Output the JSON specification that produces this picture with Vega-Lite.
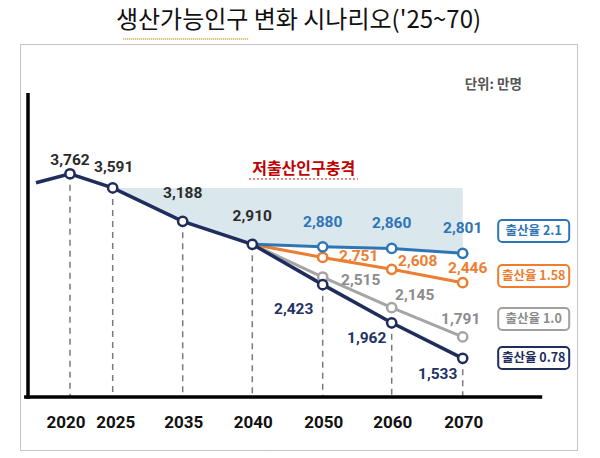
{
  "$schema": "https://vega.github.io/schema/vega-lite/v6.json",
  "width": 557,
  "height": 406,
  "autosize": {"type": "none"},
  "padding": {"left": 20, "top": 44, "right": 23, "bottom": 8},
  "background": "white",
  "view": {"stroke": "#8a8a8a", "strokeWidth": 1, "strokeDash": [1, 1]},
  "title": {"text": "생산가능인구 변화 시나리오('25~70)", "font": "Noto Sans CJK KR", "fontSize": 24, "fontWeight": "normal", "color": "#111111", "anchor": "middle", "frame": "group", "offset": 5},
  "data": {"values": [
    {"series": "0.78", "year": 2016, "value": 3654},
    {"series": "0.78", "year": 2020, "value": 3762},
    {"series": "0.78", "year": 2025, "value": 3591},
    {"series": "0.78", "year": 2035, "value": 3188},
    {"series": "0.78", "year": 2040, "value": 2910},
    {"series": "0.78", "year": 2050, "value": 2423},
    {"series": "0.78", "year": 2060, "value": 1962},
    {"series": "0.78", "year": 2070, "value": 1533},
    {"series": "1.0", "year": 2040, "value": 2910},
    {"series": "1.0", "year": 2050, "value": 2515},
    {"series": "1.0", "year": 2060, "value": 2145},
    {"series": "1.0", "year": 2070, "value": 1791},
    {"series": "1.58", "year": 2040, "value": 2910},
    {"series": "1.58", "year": 2050, "value": 2751},
    {"series": "1.58", "year": 2060, "value": 2608},
    {"series": "1.58", "year": 2070, "value": 2446},
    {"series": "2.1", "year": 2040, "value": 2910},
    {"series": "2.1", "year": 2050, "value": 2880},
    {"series": "2.1", "year": 2060, "value": 2860},
    {"series": "2.1", "year": 2070, "value": 2801}
  ]},
  "encoding": {
    "x": {"field": "year", "type": "quantitative", "axis": null,
      "scale": {"type": "linear", "domain": [2016, 2020, 2025, 2035, 2040, 2050, 2060, 2070], "range": [16, 50, 92.7, 162.7, 232.3, 302.7, 371.7, 442.7], "zero": false, "nice": false}},
    "y": {"field": "value", "type": "quantitative", "axis": null,
      "scale": {"domain": [426, 5329], "zero": false, "nice": false}}
  },
  "layer": [
    {
      "transform": [{"filter": "(datum.series=='0.78' && datum.year>=2025 && datum.year<=2040) || (datum.series=='2.1' && datum.year>2040)"}],
      "mark": {"type": "area", "color": "#dae7ec", "opacity": 1},
      "encoding": {"y2": {"datum": 3591}}
    },
    {
      "transform": [{"filter": "datum.series=='0.78' && datum.year>=2020"}],
      "mark": {"type": "rule", "color": "#7a7a7a", "strokeDash": [6, 5], "strokeWidth": 1.5},
      "encoding": {"y2": {"datum": 1066}}
    },
    {
      "transform": [{"filter": "datum.series=='0.78' && datum.year==2020"}],
      "mark": {"type": "rule", "color": "#000000", "strokeWidth": 3.5},
      "encoding": {"x": {"datum": 2014.6}, "x2": {"datum": 2081.2}, "y": {"datum": 1066}}
    },
    {
      "transform": [{"filter": "datum.series=='0.78' && datum.year==2020"}],
      "mark": {"type": "rule", "color": "#000000", "strokeWidth": 3.5},
      "encoding": {"x": {"datum": 2015.06}, "y": {"datum": 1045}, "y2": {"datum": 4737}}
    },
    {
      "transform": [{"filter": "datum.series!='0.78'"}],
      "mark": {"type": "line", "strokeWidth": 3},
      "encoding": {"color": {"field": "series", "type": "nominal", "legend": null,
        "scale": {"domain": ["0.78", "1.0", "1.58", "2.1"], "range": ["#1f2d5c", "#a5a5a5", "#ed7d31", "#2e75b6"]}}}
    },
    {
      "transform": [{"filter": "datum.series=='0.78'"}],
      "mark": {"type": "line", "strokeWidth": 3.5, "color": "#1f2d5c"},
      "encoding": {}
    },
    {
      "transform": [{"filter": "datum.series!='0.78' && datum.year>2040"}],
      "mark": {"type": "point", "filled": true, "fill": "white", "size": 85, "strokeWidth": 2.5, "opacity": 1},
      "encoding": {"stroke": {"field": "series", "type": "nominal", "legend": null,
        "scale": {"domain": ["0.78", "1.0", "1.58", "2.1"], "range": ["#1f2d5c", "#a5a5a5", "#ed7d31", "#2e75b6"]}}}
    },
    {
      "transform": [{"filter": "datum.series=='0.78' && datum.year>=2020"}],
      "mark": {"type": "point", "filled": true, "fill": "white", "stroke": "#1f2d5c", "size": 85, "strokeWidth": 2.5, "opacity": 1},
      "encoding": {}
    },
    {
      "transform": [{"filter": "datum.series=='0.78' && datum.year==2020"}],
      "mark": {"type": "text", "font": "Roboto", "fontWeight": "bold", "fontSize": 15.5, "baseline": "middle", "align": "center", "dx": 0, "dy": -14, "color": "#2b2b2b"},
      "encoding": {"text": {"field": "value", "type": "quantitative", "format": ","}}
    },
    {
      "transform": [{"filter": "datum.series=='0.78' && datum.year==2025"}],
      "mark": {"type": "text", "font": "Roboto", "fontWeight": "bold", "fontSize": 15.5, "baseline": "middle", "align": "center", "dx": 1, "dy": -21, "color": "#2b2b2b"},
      "encoding": {"text": {"field": "value", "type": "quantitative", "format": ","}}
    },
    {
      "transform": [{"filter": "datum.series=='0.78' && (datum.year==2035 || datum.year==2040)"}],
      "mark": {"type": "text", "font": "Roboto", "fontWeight": "bold", "fontSize": 15.5, "baseline": "middle", "align": "center", "dx": 0, "dy": -28, "color": "#2b2b2b"},
      "encoding": {"text": {"field": "value", "type": "quantitative", "format": ","}}
    },
    {
      "transform": [{"filter": "datum.series=='0.78' && datum.year==2050"}],
      "mark": {"type": "text", "font": "Roboto", "fontWeight": "bold", "fontSize": 15.5, "baseline": "middle", "align": "center", "dx": -29, "dy": 24, "color": "#1f3464"},
      "encoding": {"text": {"field": "value", "type": "quantitative", "format": ","}}
    },
    {
      "transform": [{"filter": "datum.series=='0.78' && datum.year>=2060"}],
      "mark": {"type": "text", "font": "Roboto", "fontWeight": "bold", "fontSize": 15.5, "baseline": "middle", "align": "center", "dx": -25, "dy": 15.5, "color": "#1f3464"},
      "encoding": {"text": {"field": "value", "type": "quantitative", "format": ","}}
    },
    {
      "transform": [{"filter": "datum.series=='2.1' && datum.year>2040"}],
      "mark": {"type": "text", "font": "Roboto", "fontWeight": "bold", "fontSize": 15.5, "baseline": "middle", "align": "center", "dx": 0, "dy": -25, "color": "#2e75b6"},
      "encoding": {"text": {"field": "value", "type": "quantitative", "format": ","}}
    },
    {
      "transform": [{"filter": "datum.series=='1.58' && datum.year==2050"}],
      "mark": {"type": "text", "font": "Roboto", "fontWeight": "bold", "fontSize": 15.5, "baseline": "middle", "align": "center", "dx": 36, "dy": -1, "color": "#ed7d31"},
      "encoding": {"text": {"field": "value", "type": "quantitative", "format": ","}}
    },
    {
      "transform": [{"filter": "datum.series=='1.58' && datum.year==2060"}],
      "mark": {"type": "text", "font": "Roboto", "fontWeight": "bold", "fontSize": 15.5, "baseline": "middle", "align": "center", "dx": 26, "dy": -8, "color": "#ed7d31"},
      "encoding": {"text": {"field": "value", "type": "quantitative", "format": ","}}
    },
    {
      "transform": [{"filter": "datum.series=='1.58' && datum.year==2070"}],
      "mark": {"type": "text", "font": "Roboto", "fontWeight": "bold", "fontSize": 15.5, "baseline": "middle", "align": "center", "dx": 5, "dy": -15, "color": "#ed7d31"},
      "encoding": {"text": {"field": "value", "type": "quantitative", "format": ","}}
    },
    {
      "transform": [{"filter": "datum.series=='1.0' && datum.year==2050"}],
      "mark": {"type": "text", "font": "Roboto", "fontWeight": "bold", "fontSize": 15.5, "baseline": "middle", "align": "center", "dx": 38, "dy": 3, "color": "#8c8c8c"},
      "encoding": {"text": {"field": "value", "type": "quantitative", "format": ","}}
    },
    {
      "transform": [{"filter": "datum.series=='1.0' && datum.year==2060"}],
      "mark": {"type": "text", "font": "Roboto", "fontWeight": "bold", "fontSize": 15.5, "baseline": "middle", "align": "center", "dx": 23, "dy": -13, "color": "#8c8c8c"},
      "encoding": {"text": {"field": "value", "type": "quantitative", "format": ","}}
    },
    {
      "transform": [{"filter": "datum.series=='1.0' && datum.year==2070"}],
      "mark": {"type": "text", "font": "Roboto", "fontWeight": "bold", "fontSize": 15.5, "baseline": "middle", "align": "center", "dx": -2, "dy": -18, "color": "#8c8c8c"},
      "encoding": {"text": {"field": "value", "type": "quantitative", "format": ","}}
    },
    {
      "transform": [{"filter": "datum.series=='0.78' && datum.year==2020"}],
      "mark": {"type": "text", "font": "Roboto", "fontWeight": "bold", "fontSize": 17, "baseline": "middle", "align": "center", "dx": -4, "color": "#111111"},
      "encoding": {"y": {"datum": 750}, "text": {"field": "year", "type": "quantitative", "format": "d"}}
    },
    {
      "transform": [{"filter": "datum.series=='0.78' && datum.year==2025"}],
      "mark": {"type": "text", "font": "Roboto", "fontWeight": "bold", "fontSize": 17, "baseline": "middle", "align": "center", "dx": 3, "color": "#111111"},
      "encoding": {"y": {"datum": 750}, "text": {"field": "year", "type": "quantitative", "format": "d"}}
    },
    {
      "transform": [{"filter": "datum.series=='0.78' && datum.year>=2035"}],
      "mark": {"type": "text", "font": "Roboto", "fontWeight": "bold", "fontSize": 17, "baseline": "middle", "align": "center", "dx": 1, "color": "#111111"},
      "encoding": {"y": {"datum": 750}, "text": {"field": "year", "type": "quantitative", "format": "d"}}
    },
    {
      "transform": [{"filter": "datum.series=='0.78' && datum.year==2020"}],
      "mark": {"type": "text", "font": "Noto Sans CJK KR", "fontWeight": "bold", "fontSize": 16, "baseline": "middle", "align": "center", "color": "#c00000"},
      "encoding": {"x": {"datum": 2047.3}, "y": {"datum": 3819}, "text": {"value": "저출산인구충격"}}
    },
    {
      "transform": [{"filter": "datum.series=='0.78' && datum.year==2020"}],
      "mark": {"type": "rule", "color": "#e06060", "strokeDash": [2, 2], "strokeWidth": 1.5},
      "encoding": {"x": {"datum": 2039.76}, "x2": {"datum": 2055.1}, "y": {"datum": 3699}}
    },
    {
      "transform": [{"filter": "datum.series=='0.78' && datum.year==2020"}],
      "mark": {"type": "rule", "color": "#d9b65a", "strokeDash": [1, 1], "strokeWidth": 2},
      "encoding": {"x": {"datum": 2026.5}, "x2": {"datum": 2039.7}, "y": {"datum": 5389}}
    },
    {
      "transform": [{"filter": "datum.series=='0.78' && datum.year==2020"}],
      "mark": {"type": "text", "font": "Noto Sans CJK KR", "fontWeight": "bold", "fontSize": 13.5, "baseline": "middle", "align": "center", "color": "#555555"},
      "encoding": {"x": {"datum": 2074.3}, "y": {"datum": 4834}, "text": {"value": "단위: 만명"}}
    },
    {
      "transform": [{"filter": "datum.series=='0.78' && datum.year==2020"}],
      "mark": {"type": "rect", "fill": "white", "stroke": "#2e75b6", "strokeWidth": 2, "cornerRadius": 4},
      "encoding": {"x": {"datum": 2075}, "x2": {"datum": 2085}, "y": {"datum": 2938}, "y2": {"datum": 3204}}
    },
    {
      "transform": [{"filter": "datum.series=='0.78' && datum.year==2020"}],
      "mark": {"type": "text", "font": "Noto Sans CJK KR", "fontWeight": "bold", "fontSize": 12.5, "baseline": "middle", "align": "center", "color": "#2e75b6"},
      "encoding": {"x": {"datum": 2080}, "y": {"datum": 3071}, "text": {"value": "출산율 2.1"}}
    },
    {
      "transform": [{"filter": "datum.series=='0.78' && datum.year==2020"}],
      "mark": {"type": "rect", "fill": "white", "stroke": "#ed7d31", "strokeWidth": 2, "cornerRadius": 4},
      "encoding": {"x": {"datum": 2075}, "x2": {"datum": 2085}, "y": {"datum": 2394}, "y2": {"datum": 2660}}
    },
    {
      "transform": [{"filter": "datum.series=='0.78' && datum.year==2020"}],
      "mark": {"type": "text", "font": "Noto Sans CJK KR", "fontWeight": "bold", "fontSize": 12.5, "baseline": "middle", "align": "center", "color": "#ed7d31"},
      "encoding": {"x": {"datum": 2080}, "y": {"datum": 2527}, "text": {"value": "출산율 1.58"}}
    },
    {
      "transform": [{"filter": "datum.series=='0.78' && datum.year==2020"}],
      "mark": {"type": "rect", "fill": "white", "stroke": "#a0a0a0", "strokeWidth": 2, "cornerRadius": 4},
      "encoding": {"x": {"datum": 2075}, "x2": {"datum": 2085}, "y": {"datum": 1875}, "y2": {"datum": 2141}}
    },
    {
      "transform": [{"filter": "datum.series=='0.78' && datum.year==2020"}],
      "mark": {"type": "text", "font": "Noto Sans CJK KR", "fontWeight": "bold", "fontSize": 12.5, "baseline": "middle", "align": "center", "color": "#8c8c8c"},
      "encoding": {"x": {"datum": 2080}, "y": {"datum": 2008}, "text": {"value": "출산율 1.0"}}
    },
    {
      "transform": [{"filter": "datum.series=='0.78' && datum.year==2020"}],
      "mark": {"type": "rect", "fill": "white", "stroke": "#1f2d5c", "strokeWidth": 2, "cornerRadius": 4},
      "encoding": {"x": {"datum": 2075}, "x2": {"datum": 2085}, "y": {"datum": 1404}, "y2": {"datum": 1670}}
    },
    {
      "transform": [{"filter": "datum.series=='0.78' && datum.year==2020"}],
      "mark": {"type": "text", "font": "Noto Sans CJK KR", "fontWeight": "bold", "fontSize": 12.5, "baseline": "middle", "align": "center", "color": "#1f2d5c"},
      "encoding": {"x": {"datum": 2080}, "y": {"datum": 1537}, "text": {"value": "출산율 0.78"}}
    }
  ]
}
